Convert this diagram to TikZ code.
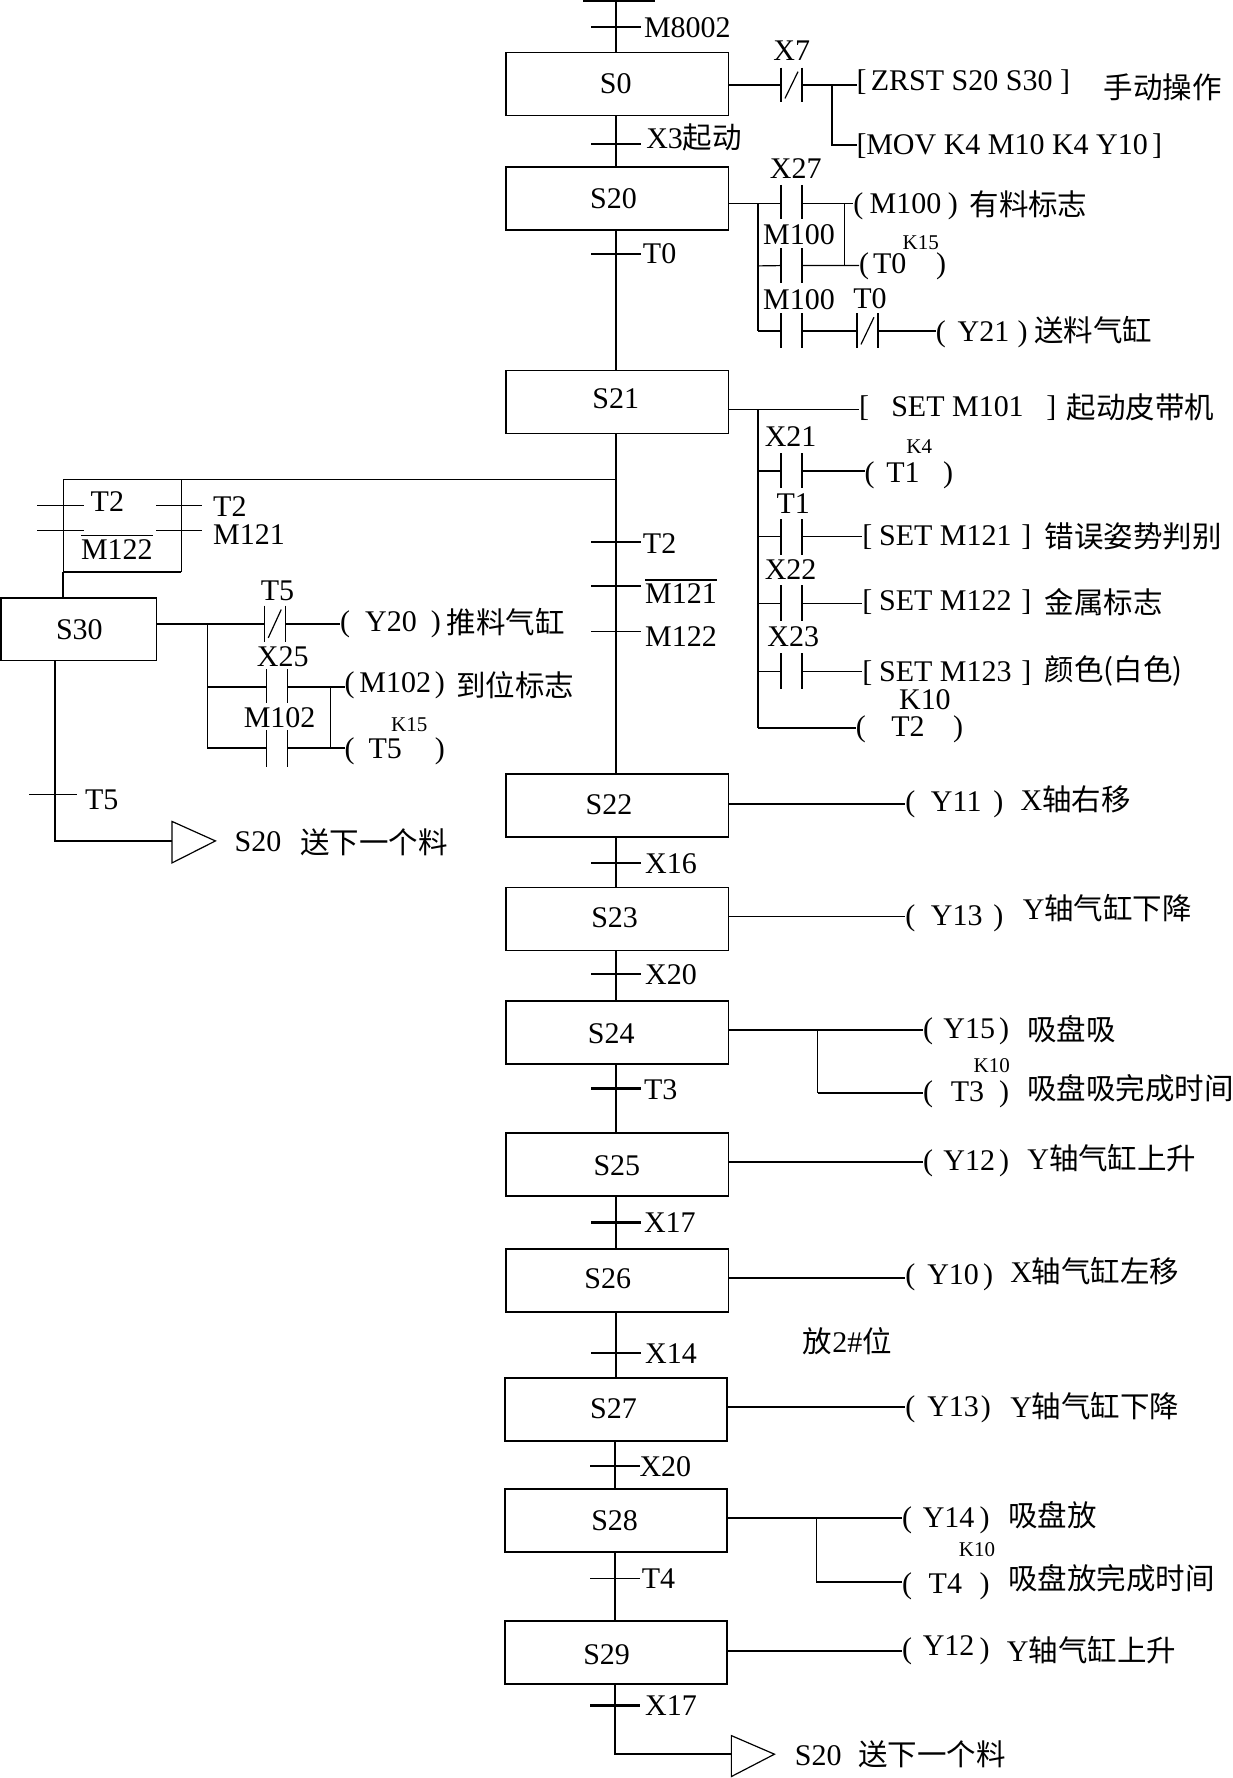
\documentclass[tikz,border=0pt]{standalone}
\usepackage{fontspec}
\setmainfont{Liberation Serif}
\newfontfamily\cj{Noto Sans CJK SC}
\newcount\lcnt
\newcommand\cjt{\cj\fontsize{29.5pt}{36pt}\selectfont}
\tikzset{
  x=1.1343pt,y=-1.1343pt,
  txt/.style={inner sep=0pt,outer sep=0pt,anchor=base west,font=\fontsize{30pt}{36pt}\selectfont},
  small/.style={inner sep=0pt,outer sep=0pt,anchor=base west,font=\fontsize{21pt}{25pt}\selectfont},
  boxt/.style={inner sep=0pt,outer sep=0pt,anchor=center,font=\fontsize{30pt}{36pt}\selectfont},
  stepbox/.style={draw,line width=1.8pt,inner sep=0pt,outer sep=0pt,minimum width=222.3pt,minimum height=63pt},
  tickn/.style={fill=black,inner sep=0pt,outer sep=0pt,minimum width=50pt,minimum height=1.2pt},
  tickk/.style={fill=black,inner sep=0pt,outer sep=0pt,minimum width=50pt,minimum height=2.4pt},
  wt/.style={line width=1.2pt},
  wk/.style={line width=2pt},
  ctc/.style={inner sep=0pt,outer sep=0pt,minimum width=21pt},
  cbar/.style={line width=1.2pt},
  tri/.style={line width=1.2pt,fill=white}
}
\newcommand\lab[3]{\global\advance\lcnt by 1 \node[txt] (L\the\lcnt) at (#1,#2) {#3};}
\newcommand\labn[4]{\node[txt] (#1) at (#2,#3) {#4};}
\newcommand\labs[3]{\global\advance\lcnt by 1 \node[small] (L\the\lcnt) at (#1,#2) {#3};}
\newcommand\contact[4]{\node[ctc,minimum height=#4*1.1343pt] (#1) at (#2,#3) {};
  \draw[cbar] (#1.north west)--(#1.south west) (#1.north east)--(#1.south east);}
\newcommand\ncontact[4]{\contact{#1}{#2}{#3}{#4}
  \draw[cbar] ([xshift=4pt,yshift=4pt]#1.south west)--([xshift=-4pt,yshift=-4pt]#1.north east);}
\newcommand\trans[3]{\draw[wk] (#2.center |- #1.south) -- (#2.center) -- (#2.center |- #3.north);}
\begin{document}
\begin{tikzpicture}
\useasboundingbox (0,0) rectangle (1087,1568);
% steps
\foreach \n/\yy in {S0/74,S20/175,S21/354.5,S22/710.5,S23/810.5,S24/910.5,S25/1027,S26/1129}{\node[stepbox] (\n) at (544.4,\yy) {};}
\foreach \n/\yy in {S27/1243,S28/1341,S29/1457}{\node[stepbox] (\n) at (543.4,\yy) {};}
\node[stepbox,minimum width=155.4pt,minimum height=62.4pt] (S30) at (69.5,555) {};
\foreach \n/\xx/\yy in {S0/543/74,S20/541/175,S21/543/352,S22/537/710,S23/542/809,S24/539/912,S25/544/1028,S26/536/1128,S27/541/1242,S28/542/1341,S29/535/1459,S30/70/555}
  {\node[boxt] (T\n) at (\xx,\yy) {\n};}
% ticks on the main column
\node[tickn,minimum width=72.6pt] (t0) at (546,0.8) {};
\node[tickk] (t1) at (543,24) {}; \lab{568}{33}{M8002}
\node[tickn] (t2) at (543,127) {}; \lab{570}{131}{X3{\cjt 起动}}
\node[tickk] (t3) at (543,224) {}; \lab{567}{232}{T0}
\node[tickk] (t4a) at (543,478) {}; \lab{567}{488}{T2}
\node[tickk] (t4b) at (543,517) {}; \labn{lM121}{569}{532}{M121}
\node[tickn] (t4c) at (543,557) {}; \lab{569}{570}{M122}
\draw[wt] ([yshift=3.5pt]lM121.north west) -- ([yshift=3.5pt]lM121.north east);
\node[tickn] (t5) at (543,761) {}; \lab{569}{770}{X16}
\node[tickk] (t6) at (543,859) {}; \lab{569}{868}{X20}
\node[tickk] (t7) at (543,960) {}; \lab{568}{970}{T3}
\node[tickk] (t8) at (543,1078) {}; \lab{568}{1087}{X17}
\node[tickk] (t9) at (543,1193) {}; \lab{569}{1202}{X14}
\node[tickk] (t10) at (542,1293) {}; \lab{564}{1302}{X20}
\node[tickn] (t11) at (542,1392) {}; \lab{566}{1401}{T4}
\node[tickk] (t12) at (542,1504) {}; \lab{569}{1513}{X17}
% main column
\draw[wk] (t1.center |- t0.center) -- (t1.center) -- (t1.center |- S0.north);
\trans{S0}{t2}{S20}
\trans{S20}{t3}{S21}
\draw[wk] (t4a.center |- S21.south) -- (t4a.center) -- (t4b.center) -- (t4c.center) -- (t4c.center |- S22.north);
\trans{S22}{t5}{S23}
\trans{S23}{t6}{S24}
\trans{S24}{t7}{S25}
\trans{S25}{t8}{S26}
\trans{S26}{t9}{S27}
\trans{S27}{t10}{S28}
\trans{S28}{t11}{S29}
% end of S29
\coordinate (endA) at (645,1547);
\draw[wk] (t12.center |- S29.south) -- (t12.center) -- (t12.center |- endA) -- (endA);
\draw[tri] (645,1530.6) -- (683,1547) -- (645,1566.7) -- cycle;
\lab{701}{1557}{S20}
\lab{757}{1557}{\cjt 送下一个料}
% S0 rung
\lab{682}{53.5}{X7}
\ncontact{c0}{698}{75}{30.6}
\labn{pA}{755.5}{80}{[}
\labn{pB}{755.5}{136}{[}
\lab{768}{80}{ZRST S20 S30}
\lab{935}{80}{]}
\lab{764}{136}{MOV K4 M10 K4 Y10}
\lab{1016}{136}{]}
\lab{973.5}{87}{\cjt 手动操作}
\draw[wk] (S0.east |- c0) -- (c0.west) (c0.east) -- (c0.east -| pA.west);
\coordinate (j0) at (733.5,75);
\coordinate (j0b) at (733.5,127.8);
\draw[wk] (j0) -- (j0b) -- (j0b -| pB.west);
% S20 rungs
\lab{679}{157}{X27}
\contact{c1}{698}{178}{30}
\lab{673}{215.4}{M100}
\contact{c2}{698}{234.5}{31}
\lab{673}{272.7}{M100}
\contact{c3}{698}{291.8}{31}
\lab{752.6}{271.8}{T0}
\ncontact{c4}{765}{291.8}{31}
\labn{p1}{752.6}{188}{(}
\lab{767}{188}{M100}
\lab{836}{188}{)}
\lab{855}{190}{\cjt 有料标志}
\labn{p2}{757.7}{241}{(}
\lab{770}{241}{T0}
\lab{825.5}{241}{)}
\labs{796}{220.4}{K15}
\labn{p3}{825.4}{301}{(}
\lab{844.5}{301}{Y21}
\lab{897.4}{301}{)}
\lab{912}{301}{\cjt 送料气缸}
\coordinate (j1) at (668.8,179.3);
\coordinate (j2) at (745,179.3);
\coordinate (j3) at (745,234.2);
\draw[wt] (S20.east |- j1) -- (c1.west |- j1) (c1.east |- j1) -- (p1.west |- j1);
\draw[wk] (j1) -- (j1 |- c3);
\draw[wt] (j2) -- (j3);
\draw[wt] (j1 |- c2) -- (c2.west |- j3) (c2.east |- j3) -- (p2.west |- j3);
\draw[wk] (j1 |- c3) -- (c3.west) (c3.east) -- (c4.west) (c4.east) -- (c4.east -| p3.west);
% S21 rungs
\coordinate (j4) at (668.6,360.9);
\coordinate (j5) at (668.6,642);
\labn{p4}{757.7}{367.3}{[}
\lab{786}{367.3}{SET M101}
\lab{922.8}{367.3}{]}
\lab{940.6}{369}{\cjt 起动皮带机}
\draw[wt] (S21.east |- j4) -- (j4 -| p4.west);
\draw[wk] (j4) -- (j5);
\lab{674.5}{393.8}{X21}
\contact{c5}{698}{415}{31}
\labn{p5}{762.6}{425.5}{(}
\lab{781.7}{425.5}{T1}
\lab{831.7}{425.5}{)}
\labs{799.4}{400.2}{K4}
\draw[wk] (j4 |- c5) -- (c5.west) (c5.east) -- (c5.east -| p5.west);
\lab{684.8}{453.1}{T1}
\contact{c6}{698}{473.4}{31.4}
\labn{p6}{760.6}{481}{[}
\lab{775.3}{481}{SET M121}
\lab{900.7}{481}{]}
\lab{921.3}{483}{\cjt 错误姿势判别}
\draw[wt] (j4 |- c6) -- (c6.west) (c6.east) -- (c6.east -| p6.west);
\lab{674.5}{511.3}{X22}
\contact{c7}{698}{531.9}{32}
\labn{p7}{760.6}{538}{[}
\lab{775.3}{538}{SET M122}
\lab{900.7}{538}{]}
\lab{921.3}{541}{\cjt 金属标志}
\draw[wt] (j4 |- c7) -- (c7.west) (c7.east) -- (c7.east -| p7.west);
\lab{676.8}{570}{X23}
\contact{c8}{698}{592}{32}
\labn{p8}{760.6}{601}{[}
\lab{775.3}{601}{SET M123}
\lab{900.7}{601}{]}
\lab{921.3}{600}{\cjt 颜色(白色)}
\draw[wt] (j4 |- c8) -- (c8.west) (c8.east) -- (c8.east -| p8.west);
\lab{792.9}{625.3}{K10}
\labn{p9}{754.7}{649.4}{(}
\lab{786}{649.4}{T2}
\lab{840.5}{649.4}{)}
\draw[wk] (j5) -- (j5 -| p9.west);
% branch to S30
\coordinate (b0) at (543,423);
\coordinate (b1) at (55.7,423);
\coordinate (b2) at (160,423);
\coordinate (b3) at (160,504.3);
\coordinate (b4) at (55.7,504.3);
\draw[wt] (b0) -- (b1) (b2) -- (b3);
\draw[wk] (b3) -- (b4);
\draw[wt] (b1) -- (b4);
\draw[wk] (b4) -- (b4 |- S30.north);
\node[tickn,minimum width=46.5pt] (t20) at (53.5,445.6) {};
\node[tickn,minimum width=46.5pt] (t21) at (53.5,468) {};
\node[tickn,minimum width=46.5pt] (t22) at (157.7,445.6) {};
\node[tickn,minimum width=46.5pt] (t23) at (157.7,468) {};
\lab{80}{451}{T2}
\lab{188}{455.5}{T2}
\lab{188}{480.6}{M121}
\labn{lM122}{71.5}{493}{M122}
\draw[wt] ([yshift=3.5pt]lM122.north west) -- ([yshift=3.5pt]lM122.north east);
% S30 rungs
\lab{230}{529.6}{T5}
\ncontact{c10}{242.3}{550}{32}
\labn{p10}{300}{557}{(}
\lab{322}{557}{Y20}
\lab{380}{557}{)}
\lab{394}{559}{\cjt 推料气缸}
\coordinate (j6) at (183,550);
\draw[wk] (S30.east |- j6) -- (c10.west) (c10.east) -- (c10.east -| p10.west);
\lab{226.6}{587.8}{X25}
\contact{c11}{244}{605}{30}
\labn{p11}{304}{611}{(}
\lab{317}{611}{M102}
\lab{383.5}{611}{)}
\lab{402.5}{614}{\cjt 到位标志}
\lab{215}{642}{M102}
\contact{c12}{244}{660}{32.4}
\labn{p12}{304}{669}{(}
\lab{325}{669}{T5}
\lab{383.5}{669}{)}
\labs{345}{645}{K15}
\coordinate (j7) at (183,659.7);
\coordinate (j8) at (291.4,605.8);
\coordinate (j9) at (291.4,659.7);
\draw[wt] (j6) -- (j7) -- (c12.west |- j7) (c12.east |- j7) -- (p12.west |- j7);
\draw[wk] (j6 |- j8) -- (c11.west |- j8) (c11.east |- j8) -- (p11.west |- j8);
\draw[wt] (j8) -- (j9);
% S30 down
\node[tickn,minimum width=48pt] (t30) at (46.7,701) {};
\lab{75}{714}{T5}
\coordinate (d0) at (48.5,741.6);
\coordinate (d1) at (151.7,741.6);
\draw[wt] (d0 |- S30.south) -- (d0) -- (d1);
\draw[tri] (151.7,724.4) -- (190,741.6) -- (151.7,761) -- cycle;
\lab{207}{751}{S20}
\lab{265}{753}{\cjt 送下一个料}
% lower actions
\labn{q22}{798.5}{716}{(}
\lab{821}{716}{Y11}
\lab{876}{716}{)}
\lab{900}{715}{X{\cjt 轴右移}}
\draw[wk] (S22.east |- 0,709) -- (q22.west |- 0,709);
\labn{q23}{798.5}{816}{(}
\lab{821}{816}{Y13}
\lab{876}{816}{)}
\lab{902}{811}{Y{\cjt 轴气缸下降}}
\draw[wt] (S23.east |- 0,808) -- (q23.west |- 0,808);
\labn{q24}{814}{916}{(}
\lab{832}{916}{Y15}
\lab{881}{916}{)}
\lab{906}{918}{\cjt 吸盘吸}
\labn{q24b}{814}{971}{(}
\lab{838.5}{971}{T3}
\lab{881}{971}{)}
\labs{858.7}{946}{K10}
\lab{906}{970}{\cjt 吸盘吸完成时间}
\coordinate (k1) at (721,908);
\coordinate (k2) at (721,964);
\draw[wk] (S24.east |- k1) -- (q24.west |- k1);
\draw[wt] (k1) -- (k2);
\draw[wk] (k2) -- (q24b.west |- k2);
\labn{q25}{814}{1032}{(}
\lab{832}{1032}{Y12}
\lab{881}{1032}{)}
\lab{906}{1031}{Y{\cjt 轴气缸上升}}
\draw[wk] (S25.east |- 0,1025) -- (q25.west |- 0,1025);
\labn{q26}{798.5}{1133}{(}
\lab{817.8}{1133}{Y10}
\lab{867}{1133}{)}
\lab{891}{1131}{X{\cjt 轴气缸左移}}
\draw[wk] (S26.east |- 0,1127) -- (q26.west |- 0,1127);
\lab{708}{1193}{{\cjt 放}2\#{\cjt 位}}
\labn{q27}{798.5}{1249}{(}
\lab{817.8}{1249}{Y13}
\lab{865}{1249}{)}
\lab{891}{1250}{Y{\cjt 轴气缸下降}}
\draw[wk] (S27.east |- 0,1241) -- (q27.west |- 0,1241);
\labn{q28}{795.5}{1347}{(}
\lab{813.8}{1347}{Y14}
\lab{864}{1347}{)}
\lab{889}{1346}{\cjt 吸盘放}
\labn{q28b}{795.5}{1405}{(}
\lab{819}{1405}{T4}
\lab{864}{1405}{)}
\labs{845.6}{1373}{K10}
\lab{889}{1402}{\cjt 吸盘放完成时间}
\coordinate (k3) at (720,1339);
\coordinate (k4) at (720,1395);
\draw[wk] (S28.east |- k3) -- (q28.west |- k3);
\draw[wt] (k3) -- (k4);
\draw[wk] (k4) -- (q28b.west |- k4);
\labn{q29}{795.5}{1463}{(}
\lab{813.8}{1460}{Y12}
\lab{864}{1463}{)}
\lab{888}{1465}{Y{\cjt 轴气缸上升}}
\draw[wk] (S29.east |- 0,1456) -- (q29.west |- 0,1456);
\end{tikzpicture}
\end{document}
